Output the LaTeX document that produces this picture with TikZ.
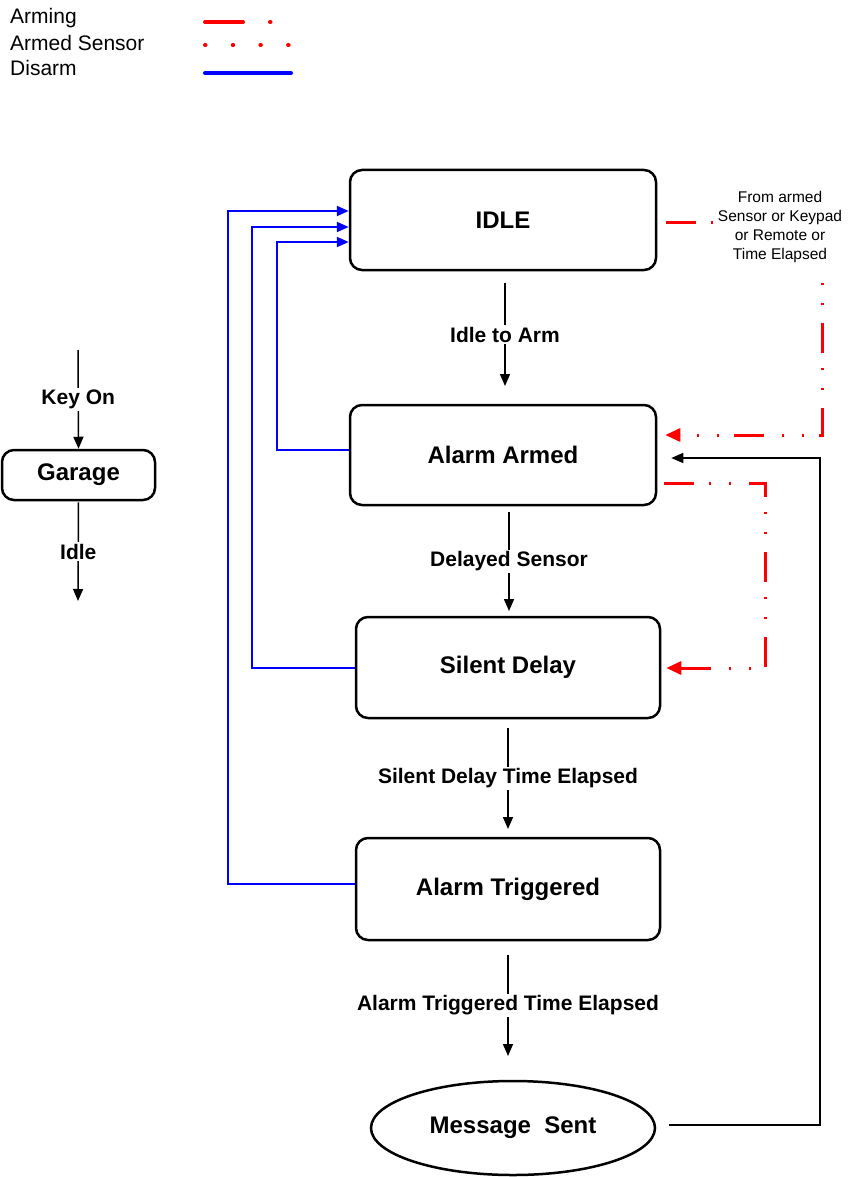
\documentclass[tikz,border=0pt]{standalone}
\usepackage{fontspec}
\setmainfont{Liberation Sans}
\usetikzlibrary{arrows.meta,shapes.geometric}
\begin{document}
\begin{tikzpicture}[x=1pt,y=-1pt,
  state/.style={draw, line width=2.5pt, rounded corners=12pt, inner sep=0pt,
    font=\fontsize{24}{28}\selectfont\bfseries},
  lbl/.style={fill=white, inner sep=2pt, font=\fontsize{21}{24}\selectfont\bfseries},
  tip/.style={-{Triangle[length=12pt,width=10pt]}},
  redtip/.style={-{Triangle[length=15pt,width=13pt]}},
  flow/.style={line width=1.5pt, tip},
  disarm/.style={blue, line width=2pt, tip},
  arming/.style={red, line width=3pt, dash pattern=on 30pt off 15pt on 2pt off 18pt on 2pt off 18pt},
  ret/.style={line width=1.3pt, tip},
  legtext/.style={anchor=west, inner sep=0pt, font=\fontsize{21}{24}\selectfont}
]
\useasboundingbox (0,0) rectangle (849,1177);

% legend
\node[legtext] (l1) at (10,18) {Arming};
\node[legtext] (l2) at (10,43) {Armed Sensor};
\node[legtext] (l3) at (10,68) {Disarm};
\draw[red, line width=4pt, line cap=round, dash pattern=on 38pt off 27pt on 0.5pt off 20pt] (205,22) -- (275,22);
\draw[red, line width=4pt, line cap=round, dash pattern=on 0.5pt off 27.2pt] (205,45) -- (290,45);
\draw[blue, line width=4pt, line cap=round] (205,73) -- (291,73);

% states
\node[state, minimum width=306pt, minimum height=100pt] (idle) at (503,220) {IDLE};
\node[state, minimum width=306pt, minimum height=100pt] (armed) at (503,455) {Alarm Armed};
\node[state, minimum width=304pt, minimum height=101pt] (silent) at (508,667.5) {Silent Delay};
\node[state, minimum width=304pt, minimum height=102pt] (trig) at (508,889) {Alarm Triggered};
\node[state, ellipse, minimum width=284pt, minimum height=94pt] (msg) at (513,1128) {Message\ \ Sent};
\node[state, minimum width=153pt, minimum height=50pt] (garage) at (78.5,475) {Garage};

% main flow
\draw[flow] (505,283) -- node[lbl] {Idle to Arm} (505,386);
\draw[flow] (509,512) -- node[lbl] {Delayed Sensor} (509,611);
\draw[flow] (508,728) -- node[lbl] {Silent Delay Time Elapsed} (508,829);
\draw[flow] (508,955) -- node[lbl] {Alarm Triggered Time Elapsed} (508,1056);

% garage
\coordinate (keytop) at (78,350);
\coordinate (idleend) at (78,601);
\draw[flow] (keytop) -- node[lbl] {Key On} (garage.north);
\draw[flow] ([yshift=-1pt]garage.south) -- node[lbl] {Idle} (idleend);

% disarm
\draw[disarm] (armed.west |- 0,450) -| (277,242) -- (idle.west |- 0,242);
\draw[disarm] (silent.west |- 0,668) -| (252,227) -- (idle.west |- 0,227);
\draw[disarm] (trig.west |- 0,884) -| (228,211) -- (idle.west |- 0,211);

% arming
\node[align=center, inner sep=0pt, font=\fontsize{15.5}{19}\selectfont] (from) at (780,227)
  {From armed\\Sensor or Keypad\\or Remote or\\Time Elapsed};
\draw[arming] ([xshift=9pt]idle.east |- 0,222) -- ([xshift=-2pt]from.west |- 0,222);
\coordinate (c1) at (822,283);
\draw[arming, dash phase=45pt, redtip] (c1) -- (822,435) -- ([xshift=8pt]armed.east |- 0,435);
\draw[arming, redtip] ([xshift=7pt]armed.east |- 0,483) -| (765,668) -- ([xshift=5pt]silent.east |- 0,668);

% return
\draw[ret] ([xshift=13pt]msg.east |- 0,1125) -| (820,458) -- ([xshift=14pt]armed.east |- 0,458);
\end{tikzpicture}
\end{document}
